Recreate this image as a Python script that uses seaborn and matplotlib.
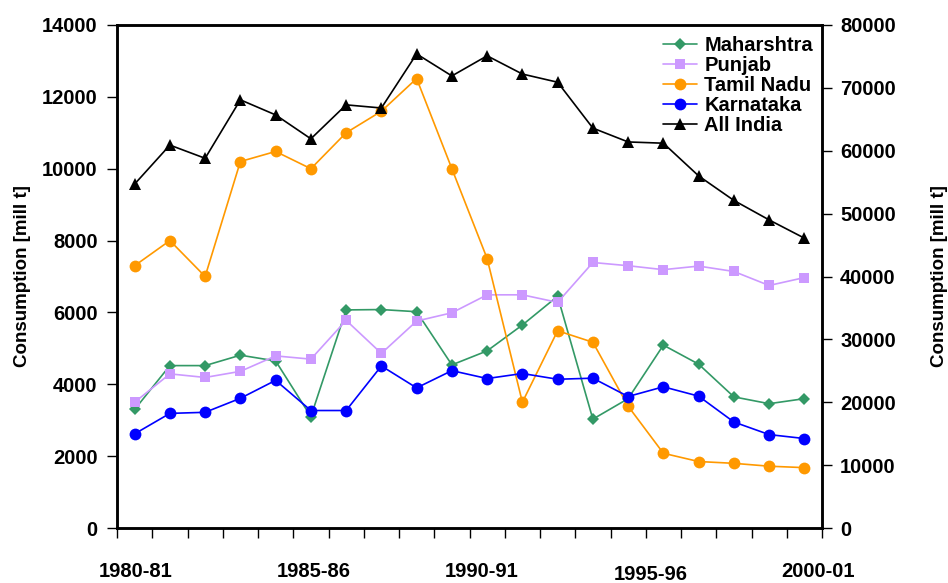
import matplotlib
matplotlib.use("Agg")
import matplotlib.pyplot as plt
import matplotlib.transforms as mtransforms
import numpy as np
import pandas as pd
import seaborn as sns

# consumption series, 1980-81 .. 1999-00 (20 years)
years = ["1980-81", "1981-82", "1982-83", "1983-84", "1984-85", "1985-86",
         "1986-87", "1987-88", "1988-89", "1989-90", "1990-91", "1991-92",
         "1992-93", "1993-94", "1994-95", "1995-96", "1996-97", "1997-98",
         "1998-99", "1999-00"]
maharashtra = [3300, 4520, 4520, 4810, 4650, 3100, 6070, 6080, 6020, 4540,
               4930, 5650, 6450, 3030, 3600, 5090, 4560, 3650, 3460, 3600]
punjab = [3500, 4290, 4190, 4360, 4790, 4700, 5780, 4860, 5760, 5990,
          6490, 6490, 6280, 7390, 7300, 7190, 7290, 7140, 6750, 6970]
tamil_nadu = [7300, 8000, 7000, 10200, 10480, 10000, 11000, 11600, 12510, 10000,
              7500, 3500, 5490, 5170, 3390, 2080, 1850, 1800, 1720, 1680]
karnataka = [2620, 3190, 3220, 3610, 4110, 3270, 3270, 4510, 3900, 4380,
             4160, 4300, 4140, 4170, 3660, 3930, 3670, 2950, 2600, 2490]
all_india = [54700, 60900, 58800, 68100, 65700, 61900, 67300, 66800, 75400, 71900,
             75100, 72200, 70900, 63600, 61400, 61200, 56000, 52100, 49000, 46100]

# labels shown under the axis (as placed in the original)
xlabel_text = ["1980-81", "1985-86", "1990-91", "1995-96", "2000-01"]
xlabel_pos = [0.03, 5.07, 9.85, 14.63, 19.4]

sns.set_style("white")
plt.rcParams["font.family"] = ["Liberation Sans", "DejaVu Sans"]
plt.rcParams["font.weight"] = "bold"
for k in ("text.color", "axes.labelcolor", "xtick.color", "ytick.color"):
    plt.rcParams[k] = "black"

df = pd.DataFrame({"idx": np.arange(len(years)), "year": years,
                   "Maharshtra": maharashtra, "Punjab": punjab,
                   "Tamil Nadu": tamil_nadu, "Karnataka": karnataka,
                   "All India": all_india})

fig = plt.figure(figsize=(9.48, 5.83), dpi=100)
ax = fig.add_axes([117 / 948, 1 - 528 / 583, (822 - 117) / 948, (528 - 25) / 583])
ax2 = ax.twinx()

styles = {
    "Maharshtra": dict(color="#339966", marker="D", markersize=6.5),
    "Punjab": dict(color="#CC99FF", marker="s", markersize=7.5),
    "Tamil Nadu": dict(color="#FF9900", marker="o", markersize=8.5),
    "Karnataka": dict(color="#0000FF", marker="o", markersize=8.5),
}
for name, st in styles.items():
    sns.lineplot(data=df, x="idx", y=name, ax=ax, label=name, linewidth=1.2,
                 markeredgewidth=0, **st)
sns.lineplot(data=df, x="idx", y="All India", ax=ax2, label="All India",
             color="black", marker="^", markersize=8.5, markeredgewidth=0,
             linewidth=1.2)

ax.set_xlim(-0.5, len(years) - 0.5)
ax.set_ylim(0, 14000)
ax2.set_ylim(0, 80000)
ax.set_yticks(np.arange(0, 14001, 2000))
ax2.set_yticks(np.arange(0, 80001, 10000))
ax.set_xticks([])
ax.set_xticks(np.arange(-0.5, len(years)), minor=True)
ax.tick_params(axis="x", which="minor", direction="out", length=7, width=1, bottom=True)
ax.tick_params(axis="y", direction="out", length=7, width=1, left=True, pad=7, labelsize=14.5)
ax2.tick_params(axis="y", direction="out", length=7, width=1, right=True, pad=6, labelsize=14.5)
ax.set_xlabel("")
ax.set_ylabel("Consumption [mill t]", fontsize=13.5, fontweight="bold", labelpad=8)
ax2.set_ylabel("Consumption [mill t]", fontsize=13.5, fontweight="bold", labelpad=25)
for a in (ax, ax2):
    for sp in a.spines.values():
        sp.set_visible(True)
        sp.set_linewidth(1.8)
        sp.set_color("black")

trans = mtransforms.blended_transform_factory(ax.transData, ax.transAxes)
for txt, pos in zip(xlabel_text, xlabel_pos):
    yy = -0.093 if txt == "1995-96" else -0.087
    ax.text(pos, yy, txt, transform=trans, ha="center", va="center",
            fontsize=14.5, fontweight="bold")

h1, l1 = ax.get_legend_handles_labels()
h2, l2 = ax2.get_legend_handles_labels()
ax.get_legend().remove()
ax2.get_legend().remove()
ax2.legend(h1 + h2, l1 + l2, loc="upper left", bbox_to_anchor=(663 / 948, 1 - 36 / 583),
           bbox_transform=fig.transFigure, frameon=False, borderpad=0,
           borderaxespad=0, handlelength=1.7, handletextpad=0.35,
           labelspacing=0.05, prop={"size": 14.5, "weight": "bold"})

fig.savefig("out.png", dpi=100)
